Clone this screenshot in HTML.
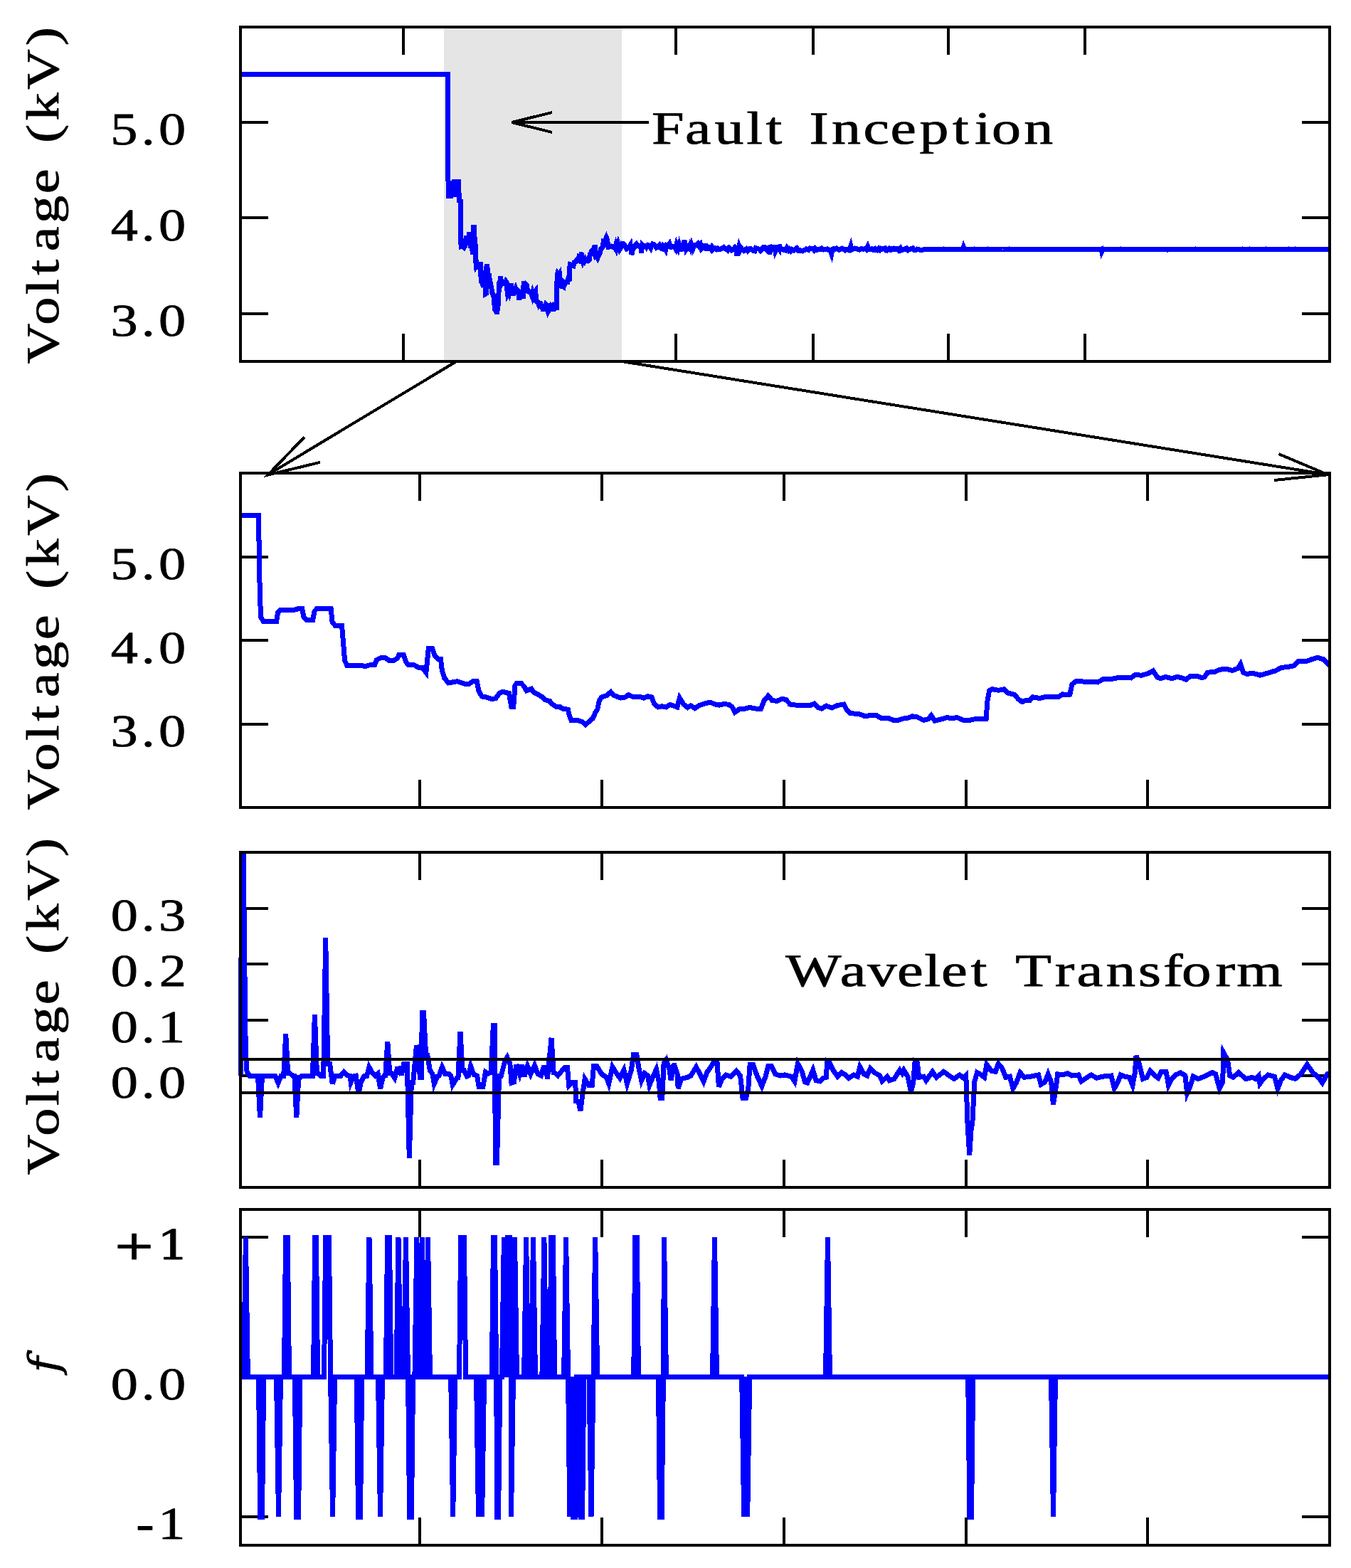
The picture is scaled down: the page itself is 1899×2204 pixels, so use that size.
<!DOCTYPE html>
<html lang="en"><head><meta charset="utf-8"><title>Fault Inception - Wavelet Transform</title>
<style>html,body{margin:0;padding:0;background:#fff;}svg{display:block;}.fr{fill:none;stroke:#000;stroke-width:4;stroke-linejoin:miter;}.tk{stroke:#000;stroke-width:4;fill:none;}.d{fill:none;stroke:#0000ff;stroke-width:7;stroke-linejoin:miter;stroke-linecap:butt;}.ar{fill:none;stroke:#000;stroke-width:4;stroke-linecap:butt;stroke-linejoin:miter;}</style></head><body>
<svg width="1899" height="2204" viewBox="0 0 1899 2204" shape-rendering="crispEdges">
<rect x="0" y="0" width="1899" height="2204" fill="#fff"/>
<g id="panel1">
<path class="tk" d="M338,172h39 M1869,172h-39 M338,306.3h39 M1869,306.3h-39 M338,440.6h39 M1869,440.6h-39"/>
<rect x="624" y="40" width="250" height="466" fill="#e5e5e5"/>
<polyline class="d" points="338,104.5 629.6,104.5 629.7,153.9 629.9,238.6 630.1,269.3 630.6,275 633.4,275 633.6,261.7 634.1,257 637.2,257 638,255 638.7,255 639.1,268.1 639.7,273.2 641,273.2 641.3,259.1 641.9,255 644.8,255 645.1,277 645.7,282.2 647.1,282.7 647.4,307.8 647.7,338.6 648.2,346.8 650.7,346.3 652.1,347.6 653.1,345.5 654,345 654.4,337.3 655.3,334.2 656.3,334.2 657.1,338.6 658.1,338.1 658.8,334.7 659.1,329.6 660.1,329.6 660.6,341.2 661.1,345.8 662.3,345.8 663.1,349.4 664,349.4 664.8,357.8 665.3,319.4 666.2,319.4 666.7,330.9 667.3,336 667.9,336 668.2,354 668.7,366.8 669.5,374.5 671.4,371.9 672.9,375.8 673.9,375.8 674.9,371.2 675.5,371.2 675.9,387.3 676.5,396.3 677.6,397.6 678.6,400.1 679.4,399.6 680.2,391.2 680.9,388.6 682.2,391.2 682.7,413 683.2,412.7 683.5,378.1 683.9,374.8 684.8,374.8 685.4,380.1 685.9,387.1 686.4,385.8 687,384 687.5,389.6 688.5,393.5 689.3,397.3 689.8,401.7 690.8,403.7 691.3,408.4 692.1,412.7 693,413.2 693.7,416.6 694.7,417.1 694.9,426.8 695.3,434.5 696.8,435 697.7,437.1 698.3,441.7 699.2,435.8 699.9,431.9 700.4,423 700.9,416.6 701.2,403.7 701.7,397.3 702.9,394.8 703.6,388.9 704.4,394.8 705.7,398.6 706.7,397.3 707.4,393.5 708.4,397.3 709.7,396.6 710.6,398.6 711.4,396 712.3,397.3 712.8,407.6 713.6,413.5 714.4,411.9 715.3,413.5 716.1,409.4 717,411.4 717.6,413.5 718.1,398.6 719,408.9 719.8,414 720.5,410.9 721.3,415.3 722.3,410.7 723.5,407.6 724.5,405.5 725.8,409.6 726.5,410.1 727.5,408.4 728.5,409.4 729.2,413.2 729.8,421.7 730.9,415.8 731.9,415.8 732.9,414 734.2,416 735.2,416 735.9,402.5 736.7,395.5 737.6,402.5 738.6,403.7 739.6,400.4 740.4,401.2 741.3,407.6 741.3,408.9 742.6,410.1 745.6,410.7 746.5,407.6 747.3,414 748,416 749,411.4 750.2,414.5 751.3,410.7 752.7,408.9 753.2,416.6 754,423.5 755.7,424.3 757.2,428.1 758,426.8 759.5,426.8 760.4,430.7 761.9,430.7 763.1,434.5 764.1,434.5 765.1,431.9 765.9,431.4 767.1,428.1 768.1,429.4 769.4,434.5 770.4,432.5 771,426.8 771.8,435.3 772.9,433.2 774.3,430.2 775.5,431.4 776.5,430.2 777.8,434.5 779.1,434.5 780.2,432.7 782.6,432.5 782.8,403.7 783.2,387.1 783.8,384.5 785.2,386.3 786.4,384.5 787,390.4 788.5,393.5 789.4,400.7 790.1,405 790.9,402.5 791.7,403 792.4,397.3 793.9,399.1 795.1,396.8 797.9,396.6 798.6,392.7 799.6,393.5 800.2,393 800.6,376.8 801.5,371.7 803.5,372.4 806,373.5 807.2,368.6 809.2,367.8 810.5,365.8 813,366.5 813.9,361.4 815.2,362.2 816.6,359.6 817.7,355 818.6,365.3 819.2,367.3 820.2,364.8 821.6,367.3 822.8,364.8 823.8,366.5 824.6,369.1 825.4,364 826.9,363.5 827.8,365.8 828.5,365.3 829.1,357.6 830.6,356.8 831.6,353.2 833,351.9 834.3,354.5 835.5,351.2 836.1,344.2 836.7,357.6 837.3,360.1 838.7,358.9 840.2,362.2 841.7,358.9 843.4,355 844.7,349.9 846.2,348.6 847.4,346.5 848.2,339.6 849.7,340.1 851.1,336.3 852.3,333.7 853.4,336.3 854.4,343.5 854.9,347.3 856.7,347 859,346.2 860.8,347.2 862.2,346.6 864.2,349 865.5,344.8 866.8,349.1 868.8,342.7 871.2,350.4 873.2,347.5 874.6,342.4 876.4,342.8 877.8,344.3 879.1,346.2 880.8,349.4 882.6,347.7 884.4,347.9 886.2,344.6 888,358 889.3,350.7 891.5,348.2 893.1,344.2 894.6,342.9 896.8,345.7 899,345.5 901.3,349.4 901.5,355.5 902.8,344.1 905.1,346.2 907.5,345.6 908.8,347.6 910.9,344.6 912.2,345.1 914.6,348.7 915.9,344.4 917.2,342.8 919.4,343.8 921.2,346.1 922.7,348.4 924,347.7 925.4,345.8 926.8,344.6 929.2,349 930.8,349.7 932.2,345.6 934.4,347.7 935.8,350.6 937.2,344.5 939.3,345.1 940.9,342.9 942.2,347.2 943.7,347.4 945.3,346.1 947.7,346.4 949.6,349.6 951,343.6 953.3,349.2 954.8,343.9 956.9,350.2 958.3,350.3 960.6,347.4 962,338 963.3,343.2 964.5,350.4 966,348.2 967.5,349.2 969.5,344.8 970.9,348.4 972.1,344.2 974,349.5 976,344.7 978.3,344 979.5,344.6 981.2,342.8 982.6,345.4 984.5,343.4 986.1,349.8 988.5,347.8 990.6,347.2 991.9,342.6 993.1,349.9 995.2,349.9 996.4,347.7 998.2,348.5 999.8,350.6 1001.1,347.4 1003.1,350.2 1005.2,348.9 1007.4,350.6 1009,349.1 1011.3,350.6 1013,350.2 1015.2,348.8 1017.2,347.6 1019.1,349.4 1020.4,349.7 1022.8,351.7 1024.8,348.3 1026.9,349.9 1028.6,351.9 1029.9,351.3 1031.2,350.4 1033,347.9 1035,350 1036,359.6 1037.3,353.2 1038.8,346.8 1040.4,351.4 1041.8,348.6 1044.1,351.3 1045.8,352.5 1047.4,351.3 1048.9,350 1051,352.6 1053.3,349.8 1055.2,349.4 1056.5,350.4 1058.8,352.3 1060.8,352.8 1062.3,348.6 1064.1,349.2 1065.5,349.9 1067.5,350.4 1069.1,352.2 1071.4,350.1 1072.7,347.9 1075,347.9 1077,350.8 1078.6,352 1079.8,348.4 1081.6,347.8 1081.8,357.4 1083.1,349 1084.5,348 1086.4,350.1 1088.4,351.2 1088.6,344.4 1089.9,352.9 1091.9,348.8 1093.7,348.7 1094.9,350.2 1095.3,343.9 1096.6,348.7 1098.1,349.6 1100.2,350.5 1102.1,351.8 1103.8,352 1106.1,348.2 1108.4,351.6 1109.7,350.1 1111.7,352.6 1113.3,350.8 1115.6,352 1117.9,350.2 1119.9,348.8 1122,352.1 1123.9,351.6 1125.4,352.6 1127.8,353 1129.6,352 1131.2,351.6 1133.4,349.9 1134.7,350.2 1136.6,351.2 1138.4,349 1140.5,349.1 1142.7,349.4 1144.3,351.3 1145.7,349.3 1147.5,351.1 1149.7,351 1152,350.4 1154.4,349.2 1155.8,350.5 1157.4,351.1 1159.4,350.5 1161.6,350.6 1163.1,350 1165.4,351.6 1166.8,351.5 1168.8,356.9 1170.1,350.5 1172,349.5 1173.8,350.4 1175.8,349 1178.1,350.4 1179.8,351.3 1181.7,350.4 1183.7,349.1 1185.6,350.1 1187.9,351.7 1189.4,350.3 1190.8,350.2 1193,351.6 1194.7,349.9 1196,345.9 1197.3,350.8 1199.6,349.3 1201.7,349 1203.2,349.6 1205.2,349.9 1206.8,350.8 1208.2,351.1 1209.5,350.4 1211,349.5 1212.8,350.2 1214.5,350.1 1216.3,349.4 1217.8,350.8 1219.7,346.9 1221,350.5 1223.2,350.7 1225.4,349.6 1227.5,351.3 1229.8,349.8 1231.4,351.7 1232.9,351.9 1235.1,349.3 1236.6,351.1 1238.1,349.2 1240.3,350.2 1242.5,349.3 1244.2,351 1245.4,349.5 1247.4,351.6 1249.8,349.2 1251.6,351.2 1253.4,351 1254.8,349.1 1256.1,349 1258,350.4 1259.9,349.3 1261.3,349.5 1263.5,351.9 1265.8,349.2 1267.1,351.8 1268.8,351.2 1270.4,350.3 1272.2,350.2 1274.2,348.9 1276.2,351.4 1277.6,350.3 1279.7,350.1 1281.1,349.4 1283,348.9 1285.2,351.3 1287.3,351.5 1289.2,350.1 1291.2,350.4 1293.5,351.3 1295,351.6 1297.1,351.2 1299.3,350.1 1301.6,350.7 1303.6,350.6 1305.7,350.3 1307.8,350.1 1309.4,350.4 1310.6,350.3 1312.6,350.5 1314.1,350.8 1316.1,350.3 1318.1,350.5 1319.9,350.3 1322.3,350.5 1324.4,350.6 1326.7,350 1328.7,350.6 1330.2,350.3 1331.4,350.2 1333.1,350.1 1334.6,350.7 1336.4,350.4 1338.8,350.5 1341.2,350.5 1343.4,350.1 1345.3,350.6 1346.5,350.7 1347.9,350.4 1349.3,350.4 1351.3,350 1353.6,350.3 1354.5,347.4 1355.8,350.5 1357.4,350.2 1359.4,350.4 1361,350.6 1362.5,350 1364,350 1365.4,350.6 1367.1,350.7 1369.2,350 1371.6,350.8 1372.8,350.7 1374.6,350.4 1376.9,350.2 1378.8,350.7 1380.8,350.4 1383.2,350.7 1385.1,350.1 1387.1,350.4 1388.5,350 1390.3,350.1 1392.1,350.5 1393.8,350.2 1395.7,350.3 1397.9,350.4 1400.3,350.8 1402.3,350.2 1403.7,350.7 1405.8,350.5 1407.4,350.2 1409.5,350.5 1411.4,350.5 1413.5,350.2 1415,350.8 1417.3,350.7 1418.5,350 1420.1,350.3 1422,350.1 1423.8,350.1 1425.2,350.5 1427,350.5 1428.7,350.4 1430.1,350.3 1432.2,350.7 1433.5,350.1 1435.7,350.5 1437.8,350.2 1439.5,350.2 1441.7,350.3 1443.7,350.8 1445.2,350.4 1447.3,350.7 1449.1,350.3 1450.4,350.7 1451.7,350.1 1453.5,350.4 1455.6,350.2 1457.7,350.1 1459.2,350.5 1460.5,350.2 1462.5,350.6 1464.1,350.1 1465.7,350.6 1467.3,350.1 1469.4,350.5 1471.7,350.8 1474,350.4 1476.1,350.2 1477.7,350.3 1480,350.7 1481.5,350.3 1483.2,350.3 1484.9,350.3 1486.3,350.5 1488.4,350.4 1490.6,350.5 1492.1,350.6 1494.3,350.2 1495.5,350.4 1497.4,350.5 1499.8,350.5 1501.9,350.1 1503.8,350.6 1505.1,350.1 1507.2,350.7 1508.5,350.5 1509.8,350.6 1511.8,350.2 1513.3,350.6 1515.1,350.6 1516.8,350.3 1519.1,350.5 1520.9,350.4 1523,350.6 1525.3,350.3 1527.5,350.5 1529.7,350.6 1531.9,350.7 1534.3,350.5 1536.1,350.6 1538.3,350.3 1540,350.1 1542.1,350.8 1543.7,350.1 1545.1,350.3 1546.7,350.8 1548,350.2 1548.7,353.4 1550,350.5 1552.1,350.1 1553.4,350.4 1555.3,350.7 1556.6,350.1 1558,350.2 1559.5,350.6 1561.4,350.2 1562.8,350.2 1564.2,350.6 1565.8,350.4 1568,350.4 1569.5,350.7 1571.8,350.3 1573.6,350.8 1575.4,350.2 1576.7,350.8 1578.8,350.3 1580.7,350.4 1582.2,350.8 1584.2,350.2 1585.4,350.4 1587,350.6 1589.1,350.5 1590.5,350.1 1592.1,350.2 1594.3,350.4 1596.3,350.8 1597.8,350.4 1599.2,350.6 1600.4,350.7 1602.6,350.7 1603.9,350.2 1605.9,350.1 1607.7,350.4 1610.1,350.5 1612.3,350.2 1614.4,350.3 1616.7,350.1 1618.9,350.2 1620.8,350.4 1622.2,350.7 1623.7,350.2 1625,350.2 1626.8,350.6 1628.4,350.5 1629.8,350.3 1631.5,350.8 1633.7,350.5 1634.9,350.3 1637,350.2 1638.9,350.4 1639,353.4 1640.3,350.8 1642.5,350.2 1644.4,350.2 1646,350.4 1647.6,350.3 1649.3,350.5 1650.8,350.2 1652.9,350.3 1655.2,350.5 1657.3,350.3 1659.5,350.1 1660.8,350.1 1662.8,350.6 1664.3,350.3 1666.5,350.5 1667.8,350.2 1669.2,350.1 1670.8,350.1 1673.2,350.3 1675,350.5 1677.1,350.7 1678.7,350.3 1680.4,350 1682.1,350.6 1684.5,350.6 1686.5,350.5 1687.7,350.3 1689.3,350.5 1690.7,350.3 1692.5,350.6 1694.7,350.5 1696,350.6 1698.3,350.4 1700,350.4 1701.3,350.6 1703.7,350.4 1705.8,350.7 1707.2,350.8 1709.2,350.2 1710.5,350.2 1712.3,350.6 1713.9,350.7 1715.6,350.4 1716.9,350.8 1718.3,350.7 1720.1,350.4 1722,350.2 1724.3,350.8 1726.5,350.5 1727.8,350.7 1729.4,350.7 1730.9,350.5 1733.1,350.1 1734.9,350.1 1736.2,350.1 1738.5,350.8 1740.5,350.2 1742.5,350.6 1744.2,350.5 1746.4,350 1747.8,350.4 1749.2,350.3 1751.1,350.1 1752.9,350.2 1754.8,350.3 1756.7,350 1758.7,350.1 1761.1,350.5 1762.9,350.3 1764.8,350.6 1766.9,350.6 1768.7,350.8 1770.9,350.7 1772.6,350.3 1774.5,350.7 1776.3,350.4 1778,350.7 1779.6,350 1781.7,350.7 1783.8,350.5 1785.9,350.2 1787.8,350.1 1789.1,350.4 1790.9,350.3 1792.2,350.6 1794,350.2 1795.6,350.3 1797.1,350.1 1799.4,350.8 1801.4,350.7 1803.1,350.6 1804.5,350.6 1806.4,350.7 1807.7,350.6 1809.1,350.4 1811.4,350 1812.9,350.2 1814.5,350.1 1816.8,350.7 1818.4,350.3 1820.4,350 1821.6,350.7 1823.2,350.4 1825.5,350.8 1827.2,350.2 1828.8,350.7 1831.1,350.2 1833.3,350.3 1835,350.1 1837.3,350.8 1838.7,350.5 1840.2,350.7 1841.4,350.1 1843.5,350.3 1845.8,350.7 1847.8,350.1 1849.9,350.8 1851.6,350.1 1853.1,350.2 1855.1,350.2 1856.6,350.2 1858.5,350.6 1860.2,350.5 1862.5,350.5 1863.9,350.2 1866.2,350.5 1867.8,350.5 1869,350.5"/>
<path class="tk" d="M566.9,38v39 M566.9,508v-39 M950,38v39 M950,508v-39 M1142.7,38v39 M1142.7,508v-39 M1333.2,38v39 M1333.2,508v-39 M1525.3,38v39 M1525.3,508v-39"/>
<rect class="fr" x="338" y="38" width="1531" height="470"/>
<path class="ar" d="M912,172H720 M776,158L719.5,172L776,186"/>
</g>
<g id="zoomlines">
<path class="ar" d="M641.5,508L377,667 M427.8,614.4L376.5,667.6L450,649.8"/>
<path class="ar" d="M874,508L1866,667 M1797.6,638.2L1866.5,667.2L1791.3,675"/>
</g>
<g id="panel2">
<path class="tk" d="M338,783h39 M1869,783h-39 M338,900.3h39 M1869,900.3h-39 M338,1017.7h39 M1869,1017.7h-39"/>
<polyline class="d" points="338,724.5 363.6,724.6 364.1,767.2 365.4,841.2 367,868.1 369.9,873 388.7,873 390.5,861.3 393.9,857.3 414,857.3 419.6,855.5 424.6,855.5 426.8,866.9 430.8,871.4 439.8,871.4 442,859.1 445.4,855.5 465.1,855.5 467.1,874.8 471.2,879.3 480.6,879.7 482.4,901.7 484.6,928.6 488,935.7 504.8,935.3 513.8,936.4 520.5,934.6 526.8,934.2 529.4,927.5 535,924.8 541.8,924.8 547.4,928.6 554.1,928.1 558.6,925.2 560.8,920.7 567.5,920.7 570.9,930.8 574.3,934.8 582.1,934.8 587.7,938 593.3,938 598.9,945.4 602.3,911.8 607.9,911.8 611.2,921.8 615.7,926.3 619.5,926.3 621.3,942 624.7,953.2 630.3,959.9 642.6,957.7 652.7,961.1 659.4,961.1 666.1,957 670.2,957 672.9,971.1 677.3,979 684.1,980.1 690.8,982.4 696.4,981.9 702,974.5 706.5,972.3 715.4,974.5 718.8,993.6 721.8,993.3 724,963.1 726.7,960.2 732.3,960.2 736.8,964.9 740.2,970.9 743.5,969.8 746.9,968.2 750.3,973.2 757,976.5 762.6,979.9 765.9,983.7 772.7,985.5 776,989.5 781.6,993.3 787.2,993.8 791.7,996.7 798.4,997.1 800.2,1005.7 802.9,1012.4 813,1012.8 818.6,1014.6 823.1,1018.7 828.7,1013.5 833.2,1010.1 836.5,1002.3 839.9,996.7 842.1,985.5 845.5,979.9 853.3,977.6 858.5,972.5 863.4,977.6 872.4,981 879.1,979.9 883.6,976.5 890.3,979.9 899.3,979.2 904.9,981 910.5,978.8 916.1,979.9 919.4,988.9 925,994 930.6,992.7 936.2,994 941.8,990.4 947.5,992.2 951.9,994 955.3,981 960.9,990 966.5,994.5 971,991.8 976.6,995.6 983.3,991.5 991.1,988.9 997.9,987.1 1006.8,990.6 1011.3,991.1 1018,989.5 1024.8,990.4 1029.2,993.8 1033.1,1001.2 1040.4,996 1047.2,996 1053.9,994.5 1062.9,996.2 1069.6,996.2 1074.1,984.4 1079.7,978.3 1085.3,984.4 1092,985.5 1098.7,982.6 1104.3,983.2 1109.9,988.9 1110,990 1119,991.1 1139.1,991.5 1144.7,988.9 1150.3,994.5 1154.8,996.2 1161.5,992.2 1169.4,994.9 1177.2,991.5 1186.2,990 1189.6,996.7 1195.2,1002.7 1206.4,1003.4 1216.4,1006.8 1222,1005.7 1232.1,1005.7 1237.7,1009 1247.8,1009 1255.7,1012.4 1262.4,1012.4 1269.1,1010.1 1274.7,1009.7 1282.5,1006.8 1289.3,1007.9 1298.2,1012.4 1305,1010.6 1309,1005.7 1313.9,1013.1 1321.8,1011.3 1330.7,1008.6 1338.6,1009.7 1345.3,1008.6 1354.3,1012.4 1363.2,1012.4 1369.9,1010.8 1386.1,1010.6 1387.9,985.5 1390.6,970.9 1394.6,968.7 1403.6,970.3 1411.4,968.7 1415.9,973.8 1426,976.5 1431.6,982.8 1436.7,986.6 1441.7,984.4 1447.3,984.8 1451.7,979.9 1461.8,981.5 1469.7,979.4 1488.7,979.2 1493.2,975.9 1499.9,976.5 1503.9,976.1 1506.8,962 1512.4,957.5 1525.9,958.2 1542.7,959 1550.5,954.8 1564,954.1 1572.9,952.3 1589.8,953 1595.4,948.5 1604.3,949.2 1613.3,946.9 1620.7,942.9 1626.7,951.9 1631.2,953.7 1637.9,951.4 1646.9,953.7 1654.7,951.4 1661.5,953 1667.1,955.2 1672.7,950.8 1682.8,950.3 1688.4,952.3 1692.8,951.9 1697.3,945.2 1707.4,944.5 1714.1,941.3 1723.1,940.2 1732.1,942.5 1739.9,939.6 1743.7,933.5 1747.7,945.2 1752.2,947.4 1761.2,946.3 1771.3,949.2 1781.4,946.3 1792.6,942.9 1801.5,938.4 1811.6,937.3 1819.4,935.5 1825.1,929.5 1835.1,929.9 1844.1,926.6 1851.9,924.3 1859.8,926.6 1866.5,932.8 1869,936"/>
<path class="tk" d="M590.4,665v39 M590.4,1135v-39 M846.1,665v39 M846.1,1135v-39 M1101.8,665v39 M1101.8,1135v-39 M1357.5,665v39 M1357.5,1135v-39 M1613.2,665v39 M1613.2,1135v-39"/>
<rect class="fr" x="338" y="665" width="1531" height="470"/>
</g>
<g id="panel3">
<path class="tk" d="M338,1276.6h39 M1869,1276.6h-39 M338,1355h39 M1869,1355h-39 M338,1433.5h39 M1869,1433.5h-39 M338,1511.8h39 M1869,1511.8h-39"/>
<clipPath id="c3"><rect x="334" y="1198" width="1539" height="471"/></clipPath>
<polyline class="d" clip-path="url(#c3)" points="338.3,1511.9 340.1,1100.1 341.3,1100.1 343.5,1330 345.3,1480 347,1506 351,1512.2 360.8,1512.2 362.5,1512.2 365.5,1571.3 368.5,1512.2 371.4,1512.2 386.8,1512.2 391,1522.3 395.1,1512.2 397.4,1512.2 398.7,1512.2 401.7,1453.3 404.7,1508.2 406.9,1508.2 411.6,1512.2 413.8,1512.2 416.8,1570.8 419.8,1514.1 422.3,1514.1 424.6,1512.2 436.9,1512.2 439.4,1512.2 442.4,1426.6 445.4,1508.2 447.1,1508.2 451.8,1512.9 454.7,1512.9 457.7,1317.8 460.7,1495.1 463.6,1495.1 467.2,1523.5 470.7,1512.9 479,1512.2 483.3,1507 487.3,1511.2 492,1512.2 493.2,1521.2 496.8,1512.9 500.3,1512.2 503.9,1537.3 507.4,1521.2 512.1,1512.2 515.7,1512.2 518.8,1499.9 522.8,1507 527.5,1512.2 531.1,1509.3 534.6,1530.6 538.2,1514.1 541.7,1511.7 541.8,1511.7 544.8,1464 547.8,1508.2 550,1508.2 554.7,1515.3 558.3,1502.2 561.8,1501.8 564.2,1511.7 567.7,1495.1 570.1,1495.1 572.3,1495.1 575.3,1628 578.3,1521.2 580.7,1521.2 585.5,1469.1 589,1485.7 590.2,1514.5 592.6,1514.5 593.2,1423.7 595.6,1423.7 598.6,1483.3 600.8,1483.3 604.4,1504.6 607.9,1509.3 610.3,1523.5 615,1512.9 617.4,1511.7 621.4,1499.9 625.7,1509.3 630.4,1509.3 634,1512.9 636.3,1524.7 639.9,1518.8 643.4,1514.1 644,1514.1 647,1449.8 650,1504.6 652.2,1504.6 656.4,1512.9 658.8,1511.7 661.6,1498.7 665.9,1510.5 670.6,1512.2 673,1527.1 678.9,1527.1 682.5,1507 686,1509.3 689.6,1507 690.3,1507 693.3,1441.5 695.5,1441.5 696.3,1634 698.5,1634 701.5,1512 704.5,1512 709,1494.1 713,1486.3 716.8,1494.1 719,1522.1 722.4,1521 725.8,1496.4 730.3,1509.8 733.6,1496.4 737,1513.2 741.5,1498.6 745.9,1509.8 751.5,1497.5 756,1509.8 760.5,1512 763.9,1500.8 767.2,1500.8 769.5,1516.5 771.7,1489.6 772.1,1489.6 775.1,1458.8 778.1,1507.6 779.6,1507.6 784,1512 789.6,1505.3 794.1,1500.8 797.5,1500.8 799.7,1525.5 804.2,1521 808.7,1521 809.8,1547.9 813.2,1549 815.9,1561.3 818.8,1538.9 822.1,1516.5 827.7,1525.5 832.2,1525.5 834.5,1498.6 838.9,1498.6 845.7,1509.8 852.4,1514.3 855.7,1523.2 860.9,1499.7 865.8,1507.6 871.4,1515.4 877,1504.2 881.5,1523.2 887.1,1505.3 890.5,1482.9 895,1482.9 898.3,1503.1 901.7,1518.8 906.2,1508.7 910.6,1512 912.9,1525.5 918.5,1512 922.5,1503.1 926.3,1521 928.1,1543.4 930.8,1543.4 933.1,1494.1 936.4,1489.6 940.9,1503.1 943.1,1518.8 947.2,1495.2 952.1,1509.8 953.2,1530 957.7,1516.5 966.7,1514.3 971.1,1512 978.5,1499.7 983.5,1508.7 989.1,1519.9 993.6,1507.6 999.2,1499.7 1002.5,1494.1 1008.1,1494.1 1010.4,1527.7 1014.8,1516.5 1020.4,1510.9 1027.2,1513.2 1035,1505.3 1040.6,1512 1044,1543.4 1048.5,1543.4 1051.8,1530 1054.1,1496.4 1058.5,1496.4 1064.1,1512 1070.9,1526.6 1076.5,1512 1079.8,1498.6 1084.3,1498.6 1089.9,1509.8 1090,1509.8 1096.7,1512 1103.4,1510.9 1112.4,1513.2 1116.9,1519.9 1121.4,1495.2 1127,1505.3 1131.5,1521 1134.8,1522.1 1142.7,1504.2 1147.1,1518.8 1152.7,1519.9 1157.2,1515.4 1161.3,1514.3 1162.8,1491.9 1166.2,1494.1 1171.8,1505.3 1177.4,1513.2 1183,1507.6 1188.6,1510.9 1193.1,1515.4 1199.8,1510.9 1205.4,1513.2 1208.8,1499.7 1214.4,1509.8 1218.9,1512 1223.3,1502 1228.9,1507.6 1236.8,1512 1240.1,1519.9 1246.9,1513.2 1250.2,1518.8 1256.9,1516.5 1264.8,1504.2 1268.2,1508.7 1270.4,1504.2 1276,1513.2 1280.5,1534.5 1283.8,1521 1286.1,1491.9 1289.4,1494.1 1291.7,1514.3 1298.4,1513.2 1301.8,1518.8 1310.7,1506.4 1316.3,1514.3 1326.4,1506.4 1334.3,1512 1341,1516.5 1348.8,1510.9 1354.4,1515.4 1357.8,1512 1360,1579.3 1362.7,1623.5 1365.7,1579.3 1366.8,1579.3 1369.7,1521 1373.5,1507.6 1379.1,1510.9 1383.6,1514.3 1386.9,1496.4 1393.6,1505.3 1399.2,1506.4 1403.3,1495.2 1408.2,1500.8 1413.8,1514.3 1419.4,1513.2 1423.9,1530 1428.4,1522.1 1434,1507.6 1439.6,1514.3 1448.5,1513.2 1459.7,1510.9 1463.1,1524.4 1468.7,1521 1473.2,1509.8 1477.7,1521 1480.4,1552.4 1480.4,1552.4 1483.4,1534.5 1486.7,1509.8 1493.4,1510.9 1500.2,1508.7 1506.9,1512 1515.9,1510.9 1519.9,1519.9 1524.8,1516.5 1533.8,1510.9 1541.6,1515.4 1549.5,1513.2 1561.8,1512 1566.3,1530 1570.8,1522.1 1575.2,1510.9 1580.8,1513.2 1587.6,1514.3 1592,1525.5 1595.4,1507.6 1597,1484 1601,1494.1 1606.6,1516.5 1612.2,1514.3 1616.7,1505.3 1623.4,1512 1627.9,1515.4 1632.4,1506.4 1639.1,1506.4 1642.5,1525.5 1646.9,1516.5 1652.5,1510.9 1659.3,1507.6 1666,1512 1668.7,1536.7 1672.7,1527.7 1677.2,1513.2 1683.9,1516.5 1692.9,1513.2 1704.1,1507.6 1708.6,1509.8 1714.2,1530 1718.7,1521 1719.8,1479.6 1725.4,1489.6 1728.7,1512 1733.2,1514.3 1741.1,1507.6 1751.1,1516.5 1760.1,1514.3 1764.6,1516.5 1769.1,1512 1770.9,1523.2 1775.8,1516.5 1782.5,1510.9 1791.5,1513.2 1796,1530 1800.4,1518.8 1806.1,1510.9 1813.9,1514.3 1820.6,1516.5 1828.5,1509.8 1837.4,1496.4 1845.3,1507.6 1853.1,1514.3 1858.7,1522.1 1865.4,1509.8 1869.2,1508.7"/>
<path class="tk" d="M338,1488.7H1869 M338,1536H1869"/>
<path class="tk" d="M590.4,1198v39 M590.4,1669v-39 M846.1,1198v39 M846.1,1669v-39 M1101.8,1198v39 M1101.8,1669v-39 M1357.5,1198v39 M1357.5,1669v-39 M1613.2,1198v39 M1613.2,1669v-39"/>
<rect class="fr" x="338" y="1198" width="1531" height="471"/>
</g>
<g id="panel4">
<path class="tk" d="M338,1739h39 M1869,1739h-39 M338,2132h39 M1869,2132h-39"/>
<polyline class="d" points="338,1935.5 342.4,1935.5 345.4,1739 348.4,1935.5 363.5,1935.5 365.7,2132 368.5,2132 370.7,1935.5 388.5,1935.5 391.5,2132 394.5,1935.5 399.4,1935.5 401.6,1739 404.3,1739 406.5,1935.5 414.4,1935.5 416.6,2132 419.6,2132 421.8,1935.5 440.5,1935.5 442.7,1739 444.4,1739 446.6,1935.5 455.5,1935.5 457.7,1739 462.4,1739 464.6,1935.5 464.6,1935.5 467.6,2132 470.6,1935.5 501.3,1935.5 503.5,2132 506.5,2132 508.7,1935.5 516,1935.5 519,1739 522,1935.5 531.5,1935.5 534.5,2132 537.5,1935.5 542.4,1935.5 544.6,1739 547.5,1739 549.7,1935.5 557,1935.5 560,1739 563,1935.5 567.5,1935.5 570.5,1739 573.5,1935.5 573.6,1935.5 575.6,2132 578.4,2132 580.6,1935.5 582.9,1935.5 585.9,1739 588.9,1935.5 590.5,1935.5 593.5,1739 596.5,1935.5 598.5,1935.5 601.5,1739 604.5,1935.5 633.7,1935.5 636.7,2132 639.7,1935.5 645.5,1935.5 647.7,1739 652.4,1739 654.6,1935.5 669.5,1935.5 672.5,2132 675.5,1935.5 675.6,1935.5 677.6,2132 680.6,1935.5 691.3,1935.5 693.5,1739 695.5,1739 697.7,1935.5 697.7,1935.5 698.8,2132 700.6,2132 702.8,1935.5 705.4,1935.5 708.4,1739 711.4,1935.5 711.4,1935.5 713.5,1739 716.5,1739 718.7,1935.5 718.7,1935.5 718.5,2132 721.5,1935.5 721.5,1935.5 723.5,1739 726.5,1935.5 736.6,1935.5 739.6,1739 742.6,1935.5 746.5,1935.5 749.5,1739 752.5,1935.5 761.9,1935.5 764.9,1739 767.9,1935.5 772.6,1935.5 774.8,1739 777.4,1739 779.6,1935.5 792.6,1935.5 795.6,1739 798.6,1935.5 798.6,1935.5 800.8,2132 803.8,1935.5 803.8,1935.5 805.5,2132 808.5,2132 810.7,1935.5 813.8,1935.5 816,2132 818.6,2132 820.8,1935.5 828,1935.5 831,2132 834,1935.5 834,1935.5 836.7,1739 839.7,1935.5 890.7,1935.5 892.9,1739 895.3,1739 897.5,1935.5 925.4,1935.5 927.6,2132 930.2,2132 932.4,1935.5 932.4,1935.5 933.5,1739 936.5,1935.5 1001.5,1935.5 1004.5,1739 1007.5,1935.5 1042.7,1935.5 1045.7,2132 1048.7,1935.5 1048.7,1935.5 1050.7,2132 1053.7,1935.5 1160.5,1935.5 1163.5,1739 1166.5,1935.5 1360.7,1935.5 1362.9,2132 1365.5,2132 1367.7,1935.5 1477.5,1935.5 1480.5,2132 1483.5,1935.5 1869,1935.5"/>
<path class="tk" d="M590.4,1700v39 M590.4,2172v-39 M846.1,1700v39 M846.1,2172v-39 M1101.8,1700v39 M1101.8,2172v-39 M1357.5,1700v39 M1357.5,2172v-39 M1613.2,1700v39 M1613.2,2172v-39"/>
<rect class="fr" x="338" y="1700" width="1531" height="472"/>
</g>
<g id="labels" font-family="'Liberation Serif', 'DejaVu Serif', serif" font-size="65" fill="#000" stroke="#000" stroke-width="0.8" stroke-linejoin="round" text-rendering="geometricPrecision">
<text class="lb" transform="scale(1.1882,1)" font-size="64.2" x="130.57 167.39 187.79" y="203.2">5.0</text>
<text class="lb" transform="scale(1.1882,1)" font-size="64.2" x="131.07 167.39 187.79" y="337.5">4.0</text>
<text class="lb" transform="scale(1.1882,1)" font-size="64.2" x="130.94 167.39 187.79" y="471.8">3.0</text>
<text class="lb" transform="scale(1.1882,1)" font-size="64.2" x="130.57 167.39 187.79" y="814.2">5.0</text>
<text class="lb" transform="scale(1.1882,1)" font-size="64.2" x="131.07 167.39 187.79" y="931.5">4.0</text>
<text class="lb" transform="scale(1.1882,1)" font-size="64.2" x="130.94 167.39 187.79" y="1048.9">3.0</text>
<text class="lb" transform="scale(1.1882,1)" font-size="64.2" x="131.07 167.39 187.67" y="1307.8">0.3</text>
<text class="lb" transform="scale(1.1882,1)" font-size="64.2" x="131.07 167.39 188.29" y="1386.2">0.2</text>
<text class="lb" transform="scale(1.1882,1)" font-size="64.2" x="131.07 167.39 186.92" y="1464.7">0.1</text>
<text class="lb" transform="scale(1.1882,1)" font-size="64.2" x="131.07 167.39 187.79" y="1543">0.0</text>
<text class="lb" transform="scale(1.1882,1)" font-size="64.2" x="131.07 167.39 187.79" y="1966.8">0.0</text>
<text class="lb" transform="scale(1.2700,1)" font-size="57" font-family="DejaVu Serif, 'Liberation Serif', serif" x="124.59 173.36" y="1770">+1</text>
<text class="lb" transform="scale(1.1882,1)" font-size="64.2" x="161.02 187.13" y="2162.8">-1</text>
<text class="lb" transform="scale(1.2609,1)" font-size="65" x="726.51 763.79 796.66 832.1 853.7 890.27 902.21 927.19 962.37 992.52 1025.11 1061.85 1086.45 1105.61 1141.41" y="202.2">Fault Inception</text>
<text class="lb" transform="scale(1.2754,1)" font-size="65" x="865.75 925.82 955.98 988.63 1018.63 1037.4 1069.82 1103.61 1119.13 1162.5 1186.77 1219.11 1254.37 1282.03 1302.32 1339.63 1362.98" y="1385.5">Wavelet Transform</text>
<text class="lb" transform="translate(82,510) rotate(-90) scale(1.2105,1)" font-size="65" x="-1.2 43.97 79.39 101.82 129.6 161.85 196.44 241.63 255.37 281.26 317.21 368.3" y="0">Voltage (kV)</text>
<text class="lb" transform="translate(82,1137) rotate(-90) scale(1.2105,1)" font-size="65" x="-1.2 43.97 79.39 101.82 129.6 161.85 196.44 241.63 255.37 281.26 317.21 368.3" y="0">Voltage (kV)</text>
<text class="lb" transform="translate(82,1650) rotate(-90) scale(1.2105,1)" font-size="65" x="-1.2 43.97 79.39 101.82 129.6 161.85 196.44 241.63 255.37 281.26 317.21 368.3" y="0">Voltage (kV)</text>
<text class="lb" transform="translate(81.7,1934) rotate(-90) scale(1.0400,1)" font-family="'DejaVu Serif', 'Liberation Serif', serif" font-style="italic" font-size="58.4" x="4.46" y="0">f</text>
</g>
</svg></body></html>
